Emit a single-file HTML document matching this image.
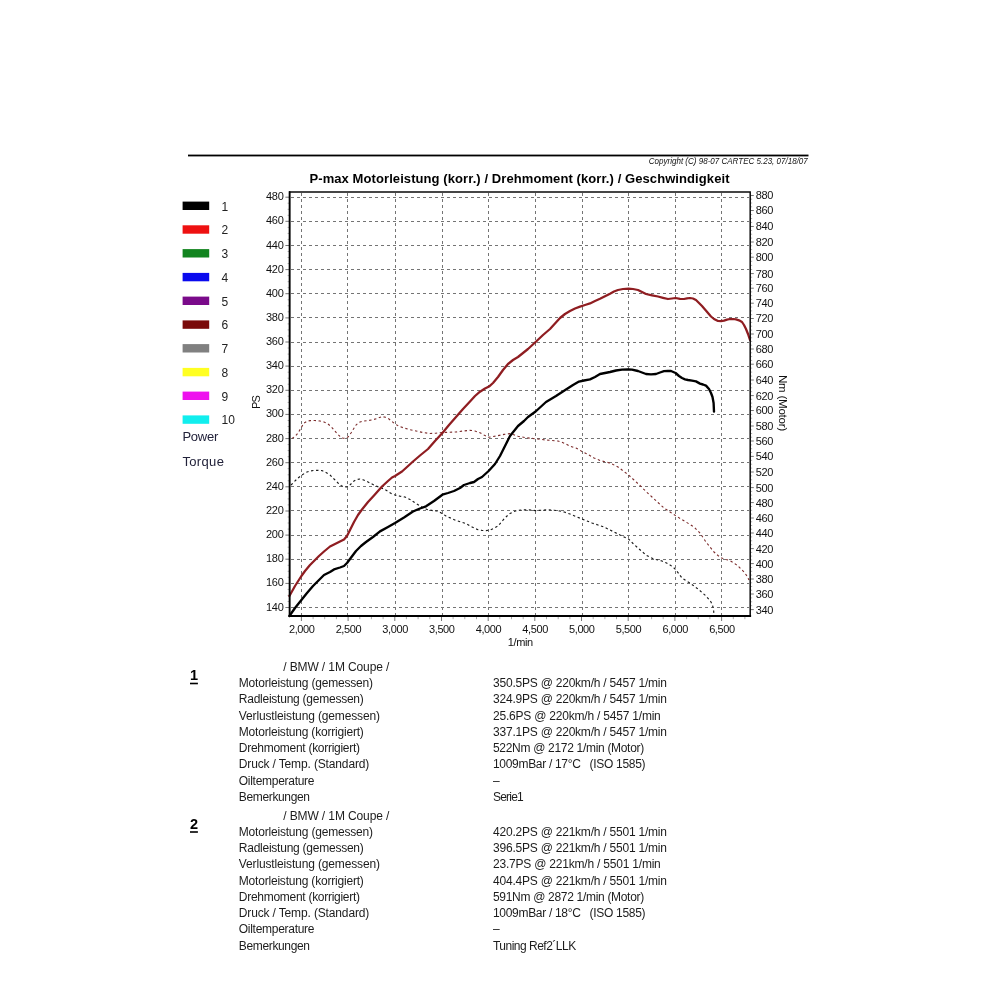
<!DOCTYPE html>
<html lang="de"><head><meta charset="utf-8"><title>P-max Motorleistung</title>
<style>
html,body{margin:0;padding:0;background:#fff;}
body{width:1000px;height:1000px;overflow:hidden;position:relative;font-family:"Liberation Sans",sans-serif;}
svg{position:absolute;left:0;top:0;display:block;}
svg text{font-family:"Liberation Sans",sans-serif;fill:#1a1a1a;}
.ax{font-size:11px;letter-spacing:-0.4px;fill:#111;}
.axl{letter-spacing:-0.25px;}
.lg{font-size:12px;fill:#222;}
.tb{font-size:12px;fill:#1c1c1c;}
.num{font-size:14.5px;font-weight:bold;fill:#000;}
</style></head><body>
<svg width="1000" height="1000" viewBox="0 0 1000 1000">
<rect x="0" y="0" width="1000" height="1000" fill="#ffffff"/>
<rect x="188" y="154.6" width="620.5" height="1.8" fill="#000"/>
<text x="648.8" y="163.8" font-size="8.6" font-style="italic" textLength="159" lengthAdjust="spacingAndGlyphs" style="fill:#111">Copyright (C) 98-07 CARTEC 5.23, 07/18/07</text>
<text x="309.5" y="182.5" font-size="13" font-weight="bold" textLength="420" lengthAdjust="spacing" style="fill:#000">P-max Motorleistung (korr.) / Drehmoment (korr.) / Geschwindigkeit</text>
<rect x="182.6" y="201.6" width="26.6" height="8.4" fill="#000000"/>
<text class="lg" x="221.6" y="210.6">1</text>
<rect x="182.6" y="225.3" width="26.6" height="8.4" fill="#ee1111"/>
<text class="lg" x="221.6" y="234.3">2</text>
<rect x="182.6" y="249.1" width="26.6" height="8.4" fill="#12841f"/>
<text class="lg" x="221.6" y="258.1">3</text>
<rect x="182.6" y="272.9" width="26.6" height="8.4" fill="#0a0aee"/>
<text class="lg" x="221.6" y="281.9">4</text>
<rect x="182.6" y="296.6" width="26.6" height="8.4" fill="#7a0a8a"/>
<text class="lg" x="221.6" y="305.6">5</text>
<rect x="182.6" y="320.4" width="26.6" height="8.4" fill="#7a0a0a"/>
<text class="lg" x="221.6" y="329.4">6</text>
<rect x="182.6" y="344.1" width="26.6" height="8.4" fill="#808080"/>
<text class="lg" x="221.6" y="353.1">7</text>
<rect x="182.6" y="367.9" width="26.6" height="8.4" fill="#ffff22"/>
<text class="lg" x="221.6" y="376.9">8</text>
<rect x="182.6" y="391.6" width="26.6" height="8.4" fill="#ee11ee"/>
<text class="lg" x="221.6" y="400.6">9</text>
<rect x="182.6" y="415.4" width="26.6" height="8.4" fill="#11eeee"/>
<text class="lg" x="221.6" y="424.4">10</text>
<text x="182.4" y="441" font-size="13" style="fill:#22223a" textLength="36" lengthAdjust="spacing">Power</text>
<text x="182.4" y="466.4" font-size="13" style="fill:#22223a" textLength="41.5" lengthAdjust="spacing">Torque</text>
<g stroke="#747474" stroke-width="1" stroke-dasharray="3 3" fill="none" shape-rendering="crispEdges">
<line x1="290.6" y1="607.5" x2="749.2" y2="607.5"/>
<line x1="290.6" y1="583.5" x2="749.2" y2="583.5"/>
<line x1="290.6" y1="559.5" x2="749.2" y2="559.5"/>
<line x1="290.6" y1="535.5" x2="749.2" y2="535.5"/>
<line x1="290.6" y1="510.5" x2="749.2" y2="510.5"/>
<line x1="290.6" y1="486.5" x2="749.2" y2="486.5"/>
<line x1="290.6" y1="462.5" x2="749.2" y2="462.5"/>
<line x1="290.6" y1="438.5" x2="749.2" y2="438.5"/>
<line x1="290.6" y1="414.5" x2="749.2" y2="414.5"/>
<line x1="290.6" y1="390.5" x2="749.2" y2="390.5"/>
<line x1="290.6" y1="366.5" x2="749.2" y2="366.5"/>
<line x1="290.6" y1="342.5" x2="749.2" y2="342.5"/>
<line x1="290.6" y1="317.5" x2="749.2" y2="317.5"/>
<line x1="290.6" y1="293.5" x2="749.2" y2="293.5"/>
<line x1="290.6" y1="269.5" x2="749.2" y2="269.5"/>
<line x1="290.6" y1="245.5" x2="749.2" y2="245.5"/>
<line x1="290.6" y1="221.5" x2="749.2" y2="221.5"/>
<line x1="290.6" y1="197.5" x2="749.2" y2="197.5"/>
<line x1="301.5" y1="193.1" x2="301.5" y2="615.0"/>
<line x1="347.5" y1="193.1" x2="347.5" y2="615.0"/>
<line x1="395.5" y1="193.1" x2="395.5" y2="615.0"/>
<line x1="442.5" y1="193.1" x2="442.5" y2="615.0"/>
<line x1="488.5" y1="193.1" x2="488.5" y2="615.0"/>
<line x1="535.5" y1="193.1" x2="535.5" y2="615.0"/>
<line x1="582.5" y1="193.1" x2="582.5" y2="615.0"/>
<line x1="628.5" y1="193.1" x2="628.5" y2="615.0"/>
<line x1="675.5" y1="193.1" x2="675.5" y2="615.0"/>
<line x1="721.5" y1="193.1" x2="721.5" y2="615.0"/>
</g>
<g stroke="#8a8a8a" stroke-width="1" fill="none">
<line x1="285.4" y1="607.5" x2="289.6" y2="607.5" stroke="#777"/>
<line x1="287.6" y1="601.5" x2="289.6" y2="601.5" stroke="#b0b0b0"/>
<line x1="287.6" y1="595.4" x2="289.6" y2="595.4" stroke="#b0b0b0"/>
<line x1="287.6" y1="589.4" x2="289.6" y2="589.4" stroke="#b0b0b0"/>
<line x1="285.4" y1="583.4" x2="289.6" y2="583.4" stroke="#777"/>
<line x1="287.6" y1="577.3" x2="289.6" y2="577.3" stroke="#b0b0b0"/>
<line x1="287.6" y1="571.3" x2="289.6" y2="571.3" stroke="#b0b0b0"/>
<line x1="287.6" y1="565.3" x2="289.6" y2="565.3" stroke="#b0b0b0"/>
<line x1="285.4" y1="559.2" x2="289.6" y2="559.2" stroke="#777"/>
<line x1="287.6" y1="553.2" x2="289.6" y2="553.2" stroke="#b0b0b0"/>
<line x1="287.6" y1="547.2" x2="289.6" y2="547.2" stroke="#b0b0b0"/>
<line x1="287.6" y1="541.1" x2="289.6" y2="541.1" stroke="#b0b0b0"/>
<line x1="285.4" y1="535.1" x2="289.6" y2="535.1" stroke="#777"/>
<line x1="287.6" y1="529.1" x2="289.6" y2="529.1" stroke="#b0b0b0"/>
<line x1="287.6" y1="523.0" x2="289.6" y2="523.0" stroke="#b0b0b0"/>
<line x1="287.6" y1="517.0" x2="289.6" y2="517.0" stroke="#b0b0b0"/>
<line x1="285.4" y1="511.0" x2="289.6" y2="511.0" stroke="#777"/>
<line x1="287.6" y1="504.9" x2="289.6" y2="504.9" stroke="#b0b0b0"/>
<line x1="287.6" y1="498.9" x2="289.6" y2="498.9" stroke="#b0b0b0"/>
<line x1="287.6" y1="492.9" x2="289.6" y2="492.9" stroke="#b0b0b0"/>
<line x1="285.4" y1="486.8" x2="289.6" y2="486.8" stroke="#777"/>
<line x1="287.6" y1="480.8" x2="289.6" y2="480.8" stroke="#b0b0b0"/>
<line x1="287.6" y1="474.8" x2="289.6" y2="474.8" stroke="#b0b0b0"/>
<line x1="287.6" y1="468.7" x2="289.6" y2="468.7" stroke="#b0b0b0"/>
<line x1="285.4" y1="462.7" x2="289.6" y2="462.7" stroke="#777"/>
<line x1="287.6" y1="456.7" x2="289.6" y2="456.7" stroke="#b0b0b0"/>
<line x1="287.6" y1="450.6" x2="289.6" y2="450.6" stroke="#b0b0b0"/>
<line x1="287.6" y1="444.6" x2="289.6" y2="444.6" stroke="#b0b0b0"/>
<line x1="285.4" y1="438.6" x2="289.6" y2="438.6" stroke="#777"/>
<line x1="287.6" y1="432.5" x2="289.6" y2="432.5" stroke="#b0b0b0"/>
<line x1="287.6" y1="426.5" x2="289.6" y2="426.5" stroke="#b0b0b0"/>
<line x1="287.6" y1="420.5" x2="289.6" y2="420.5" stroke="#b0b0b0"/>
<line x1="285.4" y1="414.4" x2="289.6" y2="414.4" stroke="#777"/>
<line x1="287.6" y1="408.4" x2="289.6" y2="408.4" stroke="#b0b0b0"/>
<line x1="287.6" y1="402.4" x2="289.6" y2="402.4" stroke="#b0b0b0"/>
<line x1="287.6" y1="396.3" x2="289.6" y2="396.3" stroke="#b0b0b0"/>
<line x1="285.4" y1="390.3" x2="289.6" y2="390.3" stroke="#777"/>
<line x1="287.6" y1="384.2" x2="289.6" y2="384.2" stroke="#b0b0b0"/>
<line x1="287.6" y1="378.2" x2="289.6" y2="378.2" stroke="#b0b0b0"/>
<line x1="287.6" y1="372.2" x2="289.6" y2="372.2" stroke="#b0b0b0"/>
<line x1="285.4" y1="366.1" x2="289.6" y2="366.1" stroke="#777"/>
<line x1="287.6" y1="360.1" x2="289.6" y2="360.1" stroke="#b0b0b0"/>
<line x1="287.6" y1="354.1" x2="289.6" y2="354.1" stroke="#b0b0b0"/>
<line x1="287.6" y1="348.0" x2="289.6" y2="348.0" stroke="#b0b0b0"/>
<line x1="285.4" y1="342.0" x2="289.6" y2="342.0" stroke="#777"/>
<line x1="287.6" y1="336.0" x2="289.6" y2="336.0" stroke="#b0b0b0"/>
<line x1="287.6" y1="329.9" x2="289.6" y2="329.9" stroke="#b0b0b0"/>
<line x1="287.6" y1="323.9" x2="289.6" y2="323.9" stroke="#b0b0b0"/>
<line x1="285.4" y1="317.9" x2="289.6" y2="317.9" stroke="#777"/>
<line x1="287.6" y1="311.8" x2="289.6" y2="311.8" stroke="#b0b0b0"/>
<line x1="287.6" y1="305.8" x2="289.6" y2="305.8" stroke="#b0b0b0"/>
<line x1="287.6" y1="299.8" x2="289.6" y2="299.8" stroke="#b0b0b0"/>
<line x1="285.4" y1="293.7" x2="289.6" y2="293.7" stroke="#777"/>
<line x1="287.6" y1="287.7" x2="289.6" y2="287.7" stroke="#b0b0b0"/>
<line x1="287.6" y1="281.7" x2="289.6" y2="281.7" stroke="#b0b0b0"/>
<line x1="287.6" y1="275.6" x2="289.6" y2="275.6" stroke="#b0b0b0"/>
<line x1="285.4" y1="269.6" x2="289.6" y2="269.6" stroke="#777"/>
<line x1="287.6" y1="263.6" x2="289.6" y2="263.6" stroke="#b0b0b0"/>
<line x1="287.6" y1="257.5" x2="289.6" y2="257.5" stroke="#b0b0b0"/>
<line x1="287.6" y1="251.5" x2="289.6" y2="251.5" stroke="#b0b0b0"/>
<line x1="285.4" y1="245.5" x2="289.6" y2="245.5" stroke="#777"/>
<line x1="287.6" y1="239.4" x2="289.6" y2="239.4" stroke="#b0b0b0"/>
<line x1="287.6" y1="233.4" x2="289.6" y2="233.4" stroke="#b0b0b0"/>
<line x1="287.6" y1="227.4" x2="289.6" y2="227.4" stroke="#b0b0b0"/>
<line x1="285.4" y1="221.3" x2="289.6" y2="221.3" stroke="#777"/>
<line x1="287.6" y1="215.3" x2="289.6" y2="215.3" stroke="#b0b0b0"/>
<line x1="287.6" y1="209.3" x2="289.6" y2="209.3" stroke="#b0b0b0"/>
<line x1="287.6" y1="203.2" x2="289.6" y2="203.2" stroke="#b0b0b0"/>
<line x1="285.4" y1="197.2" x2="289.6" y2="197.2" stroke="#777"/>
<line x1="750.2" y1="609.6" x2="753.8" y2="609.6" stroke="#777"/>
<line x1="750.2" y1="605.7" x2="752.2" y2="605.7" stroke="#b0b0b0"/>
<line x1="750.2" y1="601.8" x2="752.2" y2="601.8" stroke="#b0b0b0"/>
<line x1="750.2" y1="597.9" x2="752.2" y2="597.9" stroke="#b0b0b0"/>
<line x1="750.2" y1="594.0" x2="753.8" y2="594.0" stroke="#777"/>
<line x1="750.2" y1="590.2" x2="752.2" y2="590.2" stroke="#b0b0b0"/>
<line x1="750.2" y1="586.5" x2="752.2" y2="586.5" stroke="#b0b0b0"/>
<line x1="750.2" y1="582.8" x2="752.2" y2="582.8" stroke="#b0b0b0"/>
<line x1="750.2" y1="579.0" x2="753.8" y2="579.0" stroke="#777"/>
<line x1="750.2" y1="575.1" x2="752.2" y2="575.1" stroke="#b0b0b0"/>
<line x1="750.2" y1="571.3" x2="752.2" y2="571.3" stroke="#b0b0b0"/>
<line x1="750.2" y1="567.5" x2="752.2" y2="567.5" stroke="#b0b0b0"/>
<line x1="750.2" y1="563.6" x2="753.8" y2="563.6" stroke="#777"/>
<line x1="750.2" y1="559.9" x2="752.2" y2="559.9" stroke="#b0b0b0"/>
<line x1="750.2" y1="556.1" x2="752.2" y2="556.1" stroke="#b0b0b0"/>
<line x1="750.2" y1="552.4" x2="752.2" y2="552.4" stroke="#b0b0b0"/>
<line x1="750.2" y1="548.6" x2="753.8" y2="548.6" stroke="#777"/>
<line x1="750.2" y1="544.7" x2="752.2" y2="544.7" stroke="#b0b0b0"/>
<line x1="750.2" y1="540.8" x2="752.2" y2="540.8" stroke="#b0b0b0"/>
<line x1="750.2" y1="536.9" x2="752.2" y2="536.9" stroke="#b0b0b0"/>
<line x1="750.2" y1="533.0" x2="753.8" y2="533.0" stroke="#777"/>
<line x1="750.2" y1="529.2" x2="752.2" y2="529.2" stroke="#b0b0b0"/>
<line x1="750.2" y1="525.5" x2="752.2" y2="525.5" stroke="#b0b0b0"/>
<line x1="750.2" y1="521.8" x2="752.2" y2="521.8" stroke="#b0b0b0"/>
<line x1="750.2" y1="518.0" x2="753.8" y2="518.0" stroke="#777"/>
<line x1="750.2" y1="514.1" x2="752.2" y2="514.1" stroke="#b0b0b0"/>
<line x1="750.2" y1="510.3" x2="752.2" y2="510.3" stroke="#b0b0b0"/>
<line x1="750.2" y1="506.5" x2="752.2" y2="506.5" stroke="#b0b0b0"/>
<line x1="750.2" y1="502.6" x2="753.8" y2="502.6" stroke="#777"/>
<line x1="750.2" y1="498.9" x2="752.2" y2="498.9" stroke="#b0b0b0"/>
<line x1="750.2" y1="495.1" x2="752.2" y2="495.1" stroke="#b0b0b0"/>
<line x1="750.2" y1="491.4" x2="752.2" y2="491.4" stroke="#b0b0b0"/>
<line x1="750.2" y1="487.6" x2="753.8" y2="487.6" stroke="#777"/>
<line x1="750.2" y1="483.7" x2="752.2" y2="483.7" stroke="#b0b0b0"/>
<line x1="750.2" y1="479.8" x2="752.2" y2="479.8" stroke="#b0b0b0"/>
<line x1="750.2" y1="475.9" x2="752.2" y2="475.9" stroke="#b0b0b0"/>
<line x1="750.2" y1="472.0" x2="753.8" y2="472.0" stroke="#777"/>
<line x1="750.2" y1="468.1" x2="752.2" y2="468.1" stroke="#b0b0b0"/>
<line x1="750.2" y1="464.2" x2="752.2" y2="464.2" stroke="#b0b0b0"/>
<line x1="750.2" y1="460.3" x2="752.2" y2="460.3" stroke="#b0b0b0"/>
<line x1="750.2" y1="456.4" x2="753.8" y2="456.4" stroke="#777"/>
<line x1="750.2" y1="452.5" x2="752.2" y2="452.5" stroke="#b0b0b0"/>
<line x1="750.2" y1="448.7" x2="752.2" y2="448.7" stroke="#b0b0b0"/>
<line x1="750.2" y1="444.9" x2="752.2" y2="444.9" stroke="#b0b0b0"/>
<line x1="750.2" y1="441.0" x2="753.8" y2="441.0" stroke="#777"/>
<line x1="750.2" y1="437.2" x2="752.2" y2="437.2" stroke="#b0b0b0"/>
<line x1="750.2" y1="433.5" x2="752.2" y2="433.5" stroke="#b0b0b0"/>
<line x1="750.2" y1="429.8" x2="752.2" y2="429.8" stroke="#b0b0b0"/>
<line x1="750.2" y1="426.0" x2="753.8" y2="426.0" stroke="#777"/>
<line x1="750.2" y1="422.1" x2="752.2" y2="422.1" stroke="#b0b0b0"/>
<line x1="750.2" y1="418.2" x2="752.2" y2="418.2" stroke="#b0b0b0"/>
<line x1="750.2" y1="414.4" x2="752.2" y2="414.4" stroke="#b0b0b0"/>
<line x1="750.2" y1="410.5" x2="753.8" y2="410.5" stroke="#777"/>
<line x1="750.2" y1="406.8" x2="752.2" y2="406.8" stroke="#b0b0b0"/>
<line x1="750.2" y1="403.1" x2="752.2" y2="403.1" stroke="#b0b0b0"/>
<line x1="750.2" y1="399.3" x2="752.2" y2="399.3" stroke="#b0b0b0"/>
<line x1="750.2" y1="395.6" x2="753.8" y2="395.6" stroke="#777"/>
<line x1="750.2" y1="391.7" x2="752.2" y2="391.7" stroke="#b0b0b0"/>
<line x1="750.2" y1="387.8" x2="752.2" y2="387.8" stroke="#b0b0b0"/>
<line x1="750.2" y1="383.9" x2="752.2" y2="383.9" stroke="#b0b0b0"/>
<line x1="750.2" y1="380.0" x2="753.8" y2="380.0" stroke="#777"/>
<line x1="750.2" y1="376.1" x2="752.2" y2="376.1" stroke="#b0b0b0"/>
<line x1="750.2" y1="372.1" x2="752.2" y2="372.1" stroke="#b0b0b0"/>
<line x1="750.2" y1="368.1" x2="752.2" y2="368.1" stroke="#b0b0b0"/>
<line x1="750.2" y1="364.2" x2="753.8" y2="364.2" stroke="#777"/>
<line x1="750.2" y1="360.4" x2="752.2" y2="360.4" stroke="#b0b0b0"/>
<line x1="750.2" y1="356.6" x2="752.2" y2="356.6" stroke="#b0b0b0"/>
<line x1="750.2" y1="352.8" x2="752.2" y2="352.8" stroke="#b0b0b0"/>
<line x1="750.2" y1="349.0" x2="753.8" y2="349.0" stroke="#777"/>
<line x1="750.2" y1="345.2" x2="752.2" y2="345.2" stroke="#b0b0b0"/>
<line x1="750.2" y1="341.5" x2="752.2" y2="341.5" stroke="#b0b0b0"/>
<line x1="750.2" y1="337.8" x2="752.2" y2="337.8" stroke="#b0b0b0"/>
<line x1="750.2" y1="334.0" x2="753.8" y2="334.0" stroke="#777"/>
<line x1="750.2" y1="330.1" x2="752.2" y2="330.1" stroke="#b0b0b0"/>
<line x1="750.2" y1="326.2" x2="752.2" y2="326.2" stroke="#b0b0b0"/>
<line x1="750.2" y1="322.4" x2="752.2" y2="322.4" stroke="#b0b0b0"/>
<line x1="750.2" y1="318.5" x2="753.8" y2="318.5" stroke="#777"/>
<line x1="750.2" y1="314.7" x2="752.2" y2="314.7" stroke="#b0b0b0"/>
<line x1="750.2" y1="310.9" x2="752.2" y2="310.9" stroke="#b0b0b0"/>
<line x1="750.2" y1="307.0" x2="752.2" y2="307.0" stroke="#b0b0b0"/>
<line x1="750.2" y1="303.2" x2="753.8" y2="303.2" stroke="#777"/>
<line x1="750.2" y1="299.4" x2="752.2" y2="299.4" stroke="#b0b0b0"/>
<line x1="750.2" y1="295.7" x2="752.2" y2="295.7" stroke="#b0b0b0"/>
<line x1="750.2" y1="291.9" x2="752.2" y2="291.9" stroke="#b0b0b0"/>
<line x1="750.2" y1="288.2" x2="753.8" y2="288.2" stroke="#777"/>
<line x1="750.2" y1="284.6" x2="752.2" y2="284.6" stroke="#b0b0b0"/>
<line x1="750.2" y1="280.9" x2="752.2" y2="280.9" stroke="#b0b0b0"/>
<line x1="750.2" y1="277.2" x2="752.2" y2="277.2" stroke="#b0b0b0"/>
<line x1="750.2" y1="273.6" x2="753.8" y2="273.6" stroke="#777"/>
<line x1="750.2" y1="269.5" x2="752.2" y2="269.5" stroke="#b0b0b0"/>
<line x1="750.2" y1="265.4" x2="752.2" y2="265.4" stroke="#b0b0b0"/>
<line x1="750.2" y1="261.3" x2="752.2" y2="261.3" stroke="#b0b0b0"/>
<line x1="750.2" y1="257.2" x2="753.8" y2="257.2" stroke="#777"/>
<line x1="750.2" y1="253.4" x2="752.2" y2="253.4" stroke="#b0b0b0"/>
<line x1="750.2" y1="249.6" x2="752.2" y2="249.6" stroke="#b0b0b0"/>
<line x1="750.2" y1="245.8" x2="752.2" y2="245.8" stroke="#b0b0b0"/>
<line x1="750.2" y1="242.0" x2="753.8" y2="242.0" stroke="#777"/>
<line x1="750.2" y1="238.1" x2="752.2" y2="238.1" stroke="#b0b0b0"/>
<line x1="750.2" y1="234.2" x2="752.2" y2="234.2" stroke="#b0b0b0"/>
<line x1="750.2" y1="230.4" x2="752.2" y2="230.4" stroke="#b0b0b0"/>
<line x1="750.2" y1="226.5" x2="753.8" y2="226.5" stroke="#777"/>
<line x1="750.2" y1="222.5" x2="752.2" y2="222.5" stroke="#b0b0b0"/>
<line x1="750.2" y1="218.5" x2="752.2" y2="218.5" stroke="#b0b0b0"/>
<line x1="750.2" y1="214.5" x2="752.2" y2="214.5" stroke="#b0b0b0"/>
<line x1="750.2" y1="210.5" x2="753.8" y2="210.5" stroke="#777"/>
<line x1="750.2" y1="206.8" x2="752.2" y2="206.8" stroke="#b0b0b0"/>
<line x1="750.2" y1="203.0" x2="752.2" y2="203.0" stroke="#b0b0b0"/>
<line x1="750.2" y1="199.2" x2="752.2" y2="199.2" stroke="#b0b0b0"/>
<line x1="750.2" y1="195.5" x2="753.8" y2="195.5" stroke="#777"/>
<line x1="301.4" y1="616.0" x2="301.4" y2="621.0" stroke="#777"/>
<line x1="313.1" y1="616.0" x2="313.1" y2="619.2" stroke="#aaa"/>
<line x1="324.7" y1="616.0" x2="324.7" y2="619.2" stroke="#aaa"/>
<line x1="336.4" y1="616.0" x2="336.4" y2="619.2" stroke="#aaa"/>
<line x1="348.1" y1="616.0" x2="348.1" y2="621.0" stroke="#777"/>
<line x1="359.8" y1="616.0" x2="359.8" y2="619.2" stroke="#aaa"/>
<line x1="371.4" y1="616.0" x2="371.4" y2="619.2" stroke="#aaa"/>
<line x1="383.1" y1="616.0" x2="383.1" y2="619.2" stroke="#aaa"/>
<line x1="394.8" y1="616.0" x2="394.8" y2="621.0" stroke="#777"/>
<line x1="406.4" y1="616.0" x2="406.4" y2="619.2" stroke="#aaa"/>
<line x1="418.1" y1="616.0" x2="418.1" y2="619.2" stroke="#aaa"/>
<line x1="429.8" y1="616.0" x2="429.8" y2="619.2" stroke="#aaa"/>
<line x1="441.5" y1="616.0" x2="441.5" y2="621.0" stroke="#777"/>
<line x1="453.1" y1="616.0" x2="453.1" y2="619.2" stroke="#aaa"/>
<line x1="464.8" y1="616.0" x2="464.8" y2="619.2" stroke="#aaa"/>
<line x1="476.5" y1="616.0" x2="476.5" y2="619.2" stroke="#aaa"/>
<line x1="488.2" y1="616.0" x2="488.2" y2="621.0" stroke="#777"/>
<line x1="499.8" y1="616.0" x2="499.8" y2="619.2" stroke="#aaa"/>
<line x1="511.5" y1="616.0" x2="511.5" y2="619.2" stroke="#aaa"/>
<line x1="523.2" y1="616.0" x2="523.2" y2="619.2" stroke="#aaa"/>
<line x1="534.8" y1="616.0" x2="534.8" y2="621.0" stroke="#777"/>
<line x1="546.5" y1="616.0" x2="546.5" y2="619.2" stroke="#aaa"/>
<line x1="558.2" y1="616.0" x2="558.2" y2="619.2" stroke="#aaa"/>
<line x1="569.9" y1="616.0" x2="569.9" y2="619.2" stroke="#aaa"/>
<line x1="581.5" y1="616.0" x2="581.5" y2="621.0" stroke="#777"/>
<line x1="593.2" y1="616.0" x2="593.2" y2="619.2" stroke="#aaa"/>
<line x1="604.9" y1="616.0" x2="604.9" y2="619.2" stroke="#aaa"/>
<line x1="616.5" y1="616.0" x2="616.5" y2="619.2" stroke="#aaa"/>
<line x1="628.2" y1="616.0" x2="628.2" y2="621.0" stroke="#777"/>
<line x1="639.9" y1="616.0" x2="639.9" y2="619.2" stroke="#aaa"/>
<line x1="651.6" y1="616.0" x2="651.6" y2="619.2" stroke="#aaa"/>
<line x1="663.2" y1="616.0" x2="663.2" y2="619.2" stroke="#aaa"/>
<line x1="674.9" y1="616.0" x2="674.9" y2="621.0" stroke="#777"/>
<line x1="686.6" y1="616.0" x2="686.6" y2="619.2" stroke="#aaa"/>
<line x1="698.3" y1="616.0" x2="698.3" y2="619.2" stroke="#aaa"/>
<line x1="709.9" y1="616.0" x2="709.9" y2="619.2" stroke="#aaa"/>
<line x1="721.6" y1="616.0" x2="721.6" y2="621.0" stroke="#777"/>
<line x1="733.3" y1="616.0" x2="733.3" y2="619.2" stroke="#aaa"/>
<line x1="744.9" y1="616.0" x2="744.9" y2="619.2" stroke="#aaa"/>
</g>
<polyline points="292.0,438.4 295.0,436.5 298.0,433.0 301.0,428.0 304.0,423.0 307.0,421.2 310.0,420.6 315.0,420.5 320.0,421.0 324.0,422.0 328.0,424.0 331.0,426.5 334.0,430.0 337.0,433.5 340.0,436.4 343.0,438.2 346.0,438.4 348.5,436.5 351.0,433.0 353.5,429.0 356.0,425.0 359.0,422.5 362.0,421.4 367.0,420.6 372.0,420.0 377.0,418.5 382.0,416.6 385.5,417.3 389.0,419.0 392.0,421.5 395.0,424.0 399.0,426.3 404.0,428.0 410.0,429.7 416.0,431.0 423.0,432.5 430.0,433.5 436.0,433.2 442.0,432.5 449.0,432.3 456.0,432.0 463.0,431.0 470.0,430.3 475.0,431.0 480.0,432.8 484.5,435.3 488.6,437.2 493.0,436.6 498.0,435.6 504.0,434.4 510.0,433.6 514.0,434.8 518.0,436.3 526.0,437.7 535.6,438.8 546.0,440.0 558.0,441.0 562.0,442.3 566.0,444.0 570.0,446.2 576.0,448.0 582.0,451.5 588.0,454.5 594.0,458.0 600.0,460.5 608.0,462.5 612.0,464.0 618.0,467.0 622.0,470.0 628.6,475.0 634.0,480.0 640.0,485.5 646.0,491.5 652.0,497.0 658.0,502.5 664.0,508.0 670.0,512.0 675.6,515.6 681.0,519.0 686.0,522.0 690.0,524.5 694.0,527.0 697.0,530.0 700.0,533.0 703.0,537.5 706.0,542.0 710.0,547.0 714.0,552.0 718.0,555.5 721.6,558.0 726.0,559.5 730.0,560.6 734.0,563.0 738.0,566.0 741.0,569.0 744.0,572.0 747.0,576.0 749.0,580.0" fill="none" stroke="#7c2c2c" stroke-width="1.1" stroke-dasharray="2.4 2.6"/>
<polyline points="291.0,485.0 294.5,481.5 298.0,478.0 302.0,475.0 306.0,472.4 310.0,471.0 314.0,470.4 318.0,470.3 322.0,470.6 326.0,472.5 330.0,475.0 334.0,479.0 338.0,483.0 341.0,485.5 344.0,487.0 346.5,487.0 349.0,486.0 351.5,483.5 354.0,481.0 357.0,479.5 360.0,479.0 363.0,479.7 366.0,481.0 371.0,483.5 376.0,486.0 380.0,487.5 384.0,489.0 388.0,491.5 392.0,494.0 395.0,495.0 400.0,496.2 405.0,497.0 410.0,499.5 416.0,503.5 422.0,507.0 427.0,509.5 433.0,510.7 438.0,511.0 442.0,513.5 446.0,516.0 451.0,518.2 456.0,520.5 461.0,522.0 466.0,523.5 470.0,526.0 474.0,528.0 478.0,529.7 482.0,530.4 486.0,530.6 490.0,530.0 494.0,528.3 498.0,526.0 501.0,522.5 504.0,519.0 507.0,516.0 510.0,513.5 514.0,511.5 518.0,510.3 523.0,509.8 528.0,509.8 535.6,510.6 542.0,510.2 548.0,509.8 554.0,510.2 560.0,511.0 565.0,512.3 570.0,514.0 576.0,516.5 582.0,519.0 587.0,521.0 592.0,523.0 598.0,525.0 604.0,527.0 609.0,529.5 614.0,532.0 620.0,535.0 628.6,539.0 633.0,543.5 638.0,548.0 642.0,551.5 646.0,555.0 650.0,557.3 654.0,559.0 658.0,560.0 662.0,561.0 666.0,562.8 670.0,565.0 673.0,567.0 675.6,569.6 679.0,574.0 682.0,578.0 686.0,580.7 690.0,583.0 694.0,586.0 698.0,589.0 702.0,592.5 706.0,596.0 709.0,599.5 711.0,602.0 712.7,606.0 713.6,610.0 714.0,615.0" fill="none" stroke="#1a1a1a" stroke-width="1.15" stroke-dasharray="2.4 2.6"/>
<polyline points="289.4,596.0 295.0,586.0 301.4,576.0 305.0,571.0 310.0,565.0 314.5,560.5 319.0,556.0 324.0,551.5 330.0,546.5 337.0,543.0 344.0,539.5 347.0,536.0 350.0,530.0 354.0,522.0 358.0,515.0 362.0,509.5 368.0,502.0 374.0,495.5 378.0,491.0 382.0,486.5 388.0,481.0 392.0,477.5 395.0,476.0 402.0,471.5 407.0,467.0 413.0,461.5 420.0,455.5 428.0,449.0 435.0,441.0 442.4,433.0 449.0,425.0 456.0,417.0 463.0,409.0 470.0,401.5 475.0,396.0 480.0,391.7 485.0,388.5 489.0,386.6 493.0,383.0 498.0,377.0 503.0,370.0 508.0,364.0 513.0,360.0 518.0,357.0 523.0,353.0 528.0,349.0 535.6,342.0 543.0,335.0 550.0,329.0 555.0,323.5 560.0,318.0 565.0,314.0 570.0,311.0 575.0,308.5 580.0,306.6 585.0,305.0 590.0,303.4 595.0,301.0 600.0,298.8 605.0,296.3 610.0,293.7 614.0,291.5 618.0,290.0 623.0,289.0 628.6,288.6 633.0,289.0 638.0,290.0 642.0,292.0 646.0,294.0 652.0,295.3 658.0,296.5 663.0,297.8 668.0,299.0 672.0,298.5 675.6,298.0 680.0,298.8 684.0,299.0 687.0,298.3 690.0,298.0 693.0,298.5 696.0,300.0 699.0,303.0 702.0,306.0 705.0,309.5 708.0,313.0 711.0,316.5 714.0,319.0 718.0,321.0 721.0,321.2 724.0,320.6 727.0,319.6 730.0,319.0 733.0,319.0 736.0,319.4 739.0,320.3 742.0,322.0 744.0,325.0 746.0,329.0 748.0,334.0 750.0,340.0" fill="none" stroke="#8f1d21" stroke-width="2.25" stroke-linejoin="round" stroke-linecap="round"/>
<polyline points="289.4,616.0 295.0,608.0 301.4,600.0 307.0,593.0 313.0,586.0 318.5,580.5 324.0,575.0 330.0,572.0 334.0,569.4 340.0,567.5 344.0,566.0 347.0,563.0 350.0,559.0 356.0,551.0 361.0,546.0 366.0,542.0 373.0,537.0 380.0,531.4 388.0,527.0 395.0,523.0 404.0,517.5 413.0,511.5 420.0,508.5 426.0,506.3 434.0,501.0 442.4,494.7 448.0,493.0 454.0,491.0 460.0,488.0 464.0,485.0 470.0,483.0 474.0,482.0 478.0,479.0 482.0,477.0 488.6,471.0 495.0,464.0 500.0,456.0 504.0,448.0 507.0,442.0 510.0,436.0 514.0,431.0 518.0,426.0 524.0,421.0 528.0,417.0 535.6,411.5 546.0,402.0 556.0,396.0 566.0,389.6 573.0,385.0 579.0,381.6 584.0,380.5 590.0,379.4 595.0,377.0 600.0,374.0 605.0,373.0 610.0,372.0 616.0,370.5 622.0,369.6 628.0,369.3 632.0,369.6 638.0,371.0 642.0,372.5 646.0,374.0 651.0,374.3 656.0,374.0 660.0,372.5 664.0,371.2 668.0,370.8 671.0,371.0 675.6,373.0 679.0,376.0 682.0,378.0 685.0,379.3 688.0,380.0 692.0,380.6 696.0,381.4 700.0,383.6 703.0,384.5 706.0,385.6 709.0,389.0 711.0,393.0 712.5,397.0 713.6,403.0 714.0,411.6" fill="none" stroke="#000" stroke-width="2.35" stroke-linejoin="round" stroke-linecap="round"/>
<path d="M289.6,616.0 L289.6,192.1 L750.2,192.1 L750.2,616.0" fill="none" stroke="#0a0a0a" stroke-width="1.5" stroke-linecap="square"/>
<path d="M289.6,192.1 L289.6,616.0" fill="none" stroke="#000" stroke-width="1.6" stroke-linecap="square"/>
<path d="M289.6,616.0 L750.2,616.0" fill="none" stroke="#000" stroke-width="1.8" stroke-linecap="square"/>
<text class="ax axl" x="283.5" y="610.5" text-anchor="end">140</text>
<text class="ax axl" x="283.5" y="586.4" text-anchor="end">160</text>
<text class="ax axl" x="283.5" y="562.2" text-anchor="end">180</text>
<text class="ax axl" x="283.5" y="538.1" text-anchor="end">200</text>
<text class="ax axl" x="283.5" y="514.0" text-anchor="end">220</text>
<text class="ax axl" x="283.5" y="489.8" text-anchor="end">240</text>
<text class="ax axl" x="283.5" y="465.7" text-anchor="end">260</text>
<text class="ax axl" x="283.5" y="441.6" text-anchor="end">280</text>
<text class="ax axl" x="283.5" y="417.4" text-anchor="end">300</text>
<text class="ax axl" x="283.5" y="393.3" text-anchor="end">320</text>
<text class="ax axl" x="283.5" y="369.1" text-anchor="end">340</text>
<text class="ax axl" x="283.5" y="345.0" text-anchor="end">360</text>
<text class="ax axl" x="283.5" y="320.9" text-anchor="end">380</text>
<text class="ax axl" x="283.5" y="296.7" text-anchor="end">400</text>
<text class="ax axl" x="283.5" y="272.6" text-anchor="end">420</text>
<text class="ax axl" x="283.5" y="248.5" text-anchor="end">440</text>
<text class="ax axl" x="283.5" y="224.3" text-anchor="end">460</text>
<text class="ax axl" x="283.5" y="200.2" text-anchor="end">480</text>
<text class="ax" x="755.8" y="613.5">340</text>
<text class="ax" x="755.8" y="597.9">360</text>
<text class="ax" x="755.8" y="582.9">380</text>
<text class="ax" x="755.8" y="567.5">400</text>
<text class="ax" x="755.8" y="552.5">420</text>
<text class="ax" x="755.8" y="536.9">440</text>
<text class="ax" x="755.8" y="521.9">460</text>
<text class="ax" x="755.8" y="506.5">480</text>
<text class="ax" x="755.8" y="491.5">500</text>
<text class="ax" x="755.8" y="475.9">520</text>
<text class="ax" x="755.8" y="460.3">540</text>
<text class="ax" x="755.8" y="444.9">560</text>
<text class="ax" x="755.8" y="429.9">580</text>
<text class="ax" x="755.8" y="414.4">600</text>
<text class="ax" x="755.8" y="399.5">620</text>
<text class="ax" x="755.8" y="383.9">640</text>
<text class="ax" x="755.8" y="368.1">660</text>
<text class="ax" x="755.8" y="352.9">680</text>
<text class="ax" x="755.8" y="337.9">700</text>
<text class="ax" x="755.8" y="322.4">720</text>
<text class="ax" x="755.8" y="307.1">740</text>
<text class="ax" x="755.8" y="292.1">760</text>
<text class="ax" x="755.8" y="277.5">780</text>
<text class="ax" x="755.8" y="261.1">800</text>
<text class="ax" x="755.8" y="245.9">820</text>
<text class="ax" x="755.8" y="230.4">840</text>
<text class="ax" x="755.8" y="214.4">860</text>
<text class="ax" x="755.8" y="199.4">880</text>
<text class="ax" x="301.7" y="632.6" text-anchor="middle">2,000</text>
<text class="ax" x="348.4" y="632.6" text-anchor="middle">2,500</text>
<text class="ax" x="395.1" y="632.6" text-anchor="middle">3,000</text>
<text class="ax" x="441.8" y="632.6" text-anchor="middle">3,500</text>
<text class="ax" x="488.5" y="632.6" text-anchor="middle">4,000</text>
<text class="ax" x="535.1" y="632.6" text-anchor="middle">4,500</text>
<text class="ax" x="581.8" y="632.6" text-anchor="middle">5,000</text>
<text class="ax" x="628.5" y="632.6" text-anchor="middle">5,500</text>
<text class="ax" x="675.2" y="632.6" text-anchor="middle">6,000</text>
<text class="ax" x="721.9" y="632.6" text-anchor="middle">6,500</text>
<text class="ax" x="520.3" y="646.2" text-anchor="middle">1/min</text>
<text class="ax" transform="translate(259.8,402.4) rotate(-90)" text-anchor="middle" style="letter-spacing:-0.8px">PS</text>
<text class="ax" transform="translate(779,403) rotate(90)" text-anchor="middle" style="font-size:11.5px;letter-spacing:-0.2px">Nm (Motor)</text>
<text class="num" x="190" y="680.0">1</text>
<rect x="190" y="682.7" width="7.9" height="1.6" fill="#000"/>
<text class="tb" x="283.2" y="671.25" textLength="106.2" lengthAdjust="spacing">/ BMW / 1M Coupe /</text>
<text class="tb" x="238.8" y="687.00" textLength="134.2" lengthAdjust="spacing">Motorleistung (gemessen)</text>
<text class="tb" x="493" y="687.00" textLength="174" lengthAdjust="spacing" xml:space="preserve">350.5PS @ 220km/h / 5457 1/min</text>
<text class="tb" x="238.8" y="703.28" textLength="125.0" lengthAdjust="spacing">Radleistung (gemessen)</text>
<text class="tb" x="493" y="703.28" textLength="174" lengthAdjust="spacing" xml:space="preserve">324.9PS @ 220km/h / 5457 1/min</text>
<text class="tb" x="238.8" y="719.56" textLength="141.2" lengthAdjust="spacing">Verlustleistung (gemessen)</text>
<text class="tb" x="493" y="719.56" textLength="167.8" lengthAdjust="spacing" xml:space="preserve">25.6PS @ 220km/h / 5457 1/min</text>
<text class="tb" x="238.8" y="735.84" textLength="125.0" lengthAdjust="spacing">Motorleistung (korrigiert)</text>
<text class="tb" x="493" y="735.84" textLength="174" lengthAdjust="spacing" xml:space="preserve">337.1PS @ 220km/h / 5457 1/min</text>
<text class="tb" x="238.8" y="752.12" textLength="121.2" lengthAdjust="spacing">Drehmoment (korrigiert)</text>
<text class="tb" x="493" y="752.12" textLength="151.2" lengthAdjust="spacing" xml:space="preserve">522Nm @ 2172 1/min (Motor)</text>
<text class="tb" x="238.8" y="768.40" textLength="130.5" lengthAdjust="spacing">Druck / Temp. (Standard)</text>
<text class="tb" x="493" y="768.40" textLength="152.5" lengthAdjust="spacing" xml:space="preserve">1009mBar / 17°C   (ISO 1585)</text>
<text class="tb" x="238.8" y="784.68" textLength="75.7" lengthAdjust="spacing">Oiltemperature</text>
<text class="tb" x="493" y="784.68" textLength="7" lengthAdjust="spacing" xml:space="preserve">–</text>
<text class="tb" x="238.8" y="800.96" textLength="71.2" lengthAdjust="spacing">Bemerkungen</text>
<text class="tb" x="493" y="800.96" textLength="30.8" lengthAdjust="spacing" xml:space="preserve">Serie1</text>
<text class="num" x="190" y="828.5">2</text>
<rect x="190" y="831.2" width="7.9" height="1.6" fill="#000"/>
<text class="tb" x="283.2" y="820.0" textLength="106.2" lengthAdjust="spacing">/ BMW / 1M Coupe /</text>
<text class="tb" x="238.8" y="835.75" textLength="134.2" lengthAdjust="spacing">Motorleistung (gemessen)</text>
<text class="tb" x="493" y="835.75" textLength="174" lengthAdjust="spacing" xml:space="preserve">420.2PS @ 221km/h / 5501 1/min</text>
<text class="tb" x="238.8" y="852.03" textLength="125.0" lengthAdjust="spacing">Radleistung (gemessen)</text>
<text class="tb" x="493" y="852.03" textLength="174" lengthAdjust="spacing" xml:space="preserve">396.5PS @ 221km/h / 5501 1/min</text>
<text class="tb" x="238.8" y="868.31" textLength="141.2" lengthAdjust="spacing">Verlustleistung (gemessen)</text>
<text class="tb" x="493" y="868.31" textLength="167.8" lengthAdjust="spacing" xml:space="preserve">23.7PS @ 221km/h / 5501 1/min</text>
<text class="tb" x="238.8" y="884.59" textLength="125.0" lengthAdjust="spacing">Motorleistung (korrigiert)</text>
<text class="tb" x="493" y="884.59" textLength="174" lengthAdjust="spacing" xml:space="preserve">404.4PS @ 221km/h / 5501 1/min</text>
<text class="tb" x="238.8" y="900.87" textLength="121.2" lengthAdjust="spacing">Drehmoment (korrigiert)</text>
<text class="tb" x="493" y="900.87" textLength="151.2" lengthAdjust="spacing" xml:space="preserve">591Nm @ 2872 1/min (Motor)</text>
<text class="tb" x="238.8" y="917.15" textLength="130.5" lengthAdjust="spacing">Druck / Temp. (Standard)</text>
<text class="tb" x="493" y="917.15" textLength="152.5" lengthAdjust="spacing" xml:space="preserve">1009mBar / 18°C   (ISO 1585)</text>
<text class="tb" x="238.8" y="933.43" textLength="75.7" lengthAdjust="spacing">Oiltemperature</text>
<text class="tb" x="493" y="933.43" textLength="7" lengthAdjust="spacing" xml:space="preserve">–</text>
<text class="tb" x="238.8" y="949.71" textLength="71.2" lengthAdjust="spacing">Bemerkungen</text>
<text class="tb" x="493" y="949.71" textLength="83.2" lengthAdjust="spacing" xml:space="preserve">Tuning Ref2´LLK</text>
</svg>
</body></html>
